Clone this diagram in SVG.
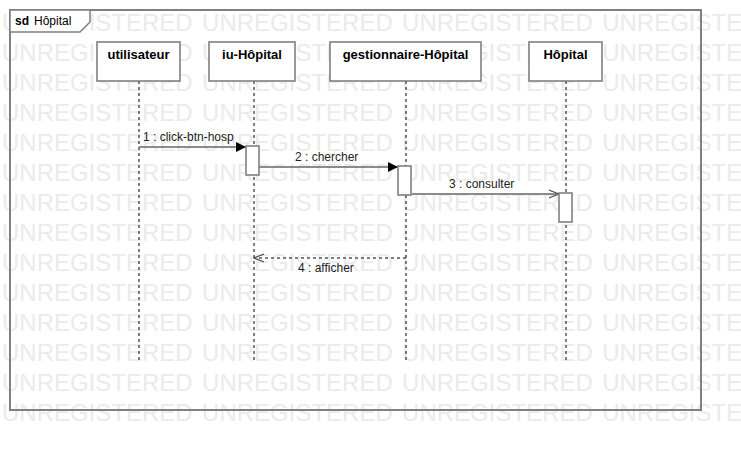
<svg xmlns="http://www.w3.org/2000/svg" width="741" height="450" viewBox="0 0 741 450">
<style>
.wm{font-family:"Liberation Sans",Arial,sans-serif;font-size:24px;fill:#ebebeb;word-spacing:2.7px}
.box{fill:#fff;stroke:#808080;stroke-width:1.6}
.act{fill:#fff;stroke:#808080;stroke-width:1.6}
.title{font-family:"Liberation Sans",Arial,sans-serif;font-size:13px;font-weight:bold;fill:#000;text-anchor:middle}
.lbl{font-family:"Liberation Sans",Arial,sans-serif;font-size:12px;fill:#222}
.life{stroke:#000;stroke-width:1;stroke-dasharray:3,3;fill:none}
.msg{stroke:#666;stroke-width:1.4;fill:none}
.ret{stroke:#555;stroke-width:1.4;fill:none;stroke-dasharray:3,3}
</style>
<defs>
<marker id="filled" markerUnits="userSpaceOnUse" markerWidth="11" markerHeight="11" refX="10" refY="5" orient="auto">
<path d="M0,0 L10,5 L0,10 z" fill="#000"/>
</marker>
<marker id="open" markerUnits="userSpaceOnUse" markerWidth="12" markerHeight="11" refX="10" refY="5" orient="auto">
<path d="M0,1 L10,5 L0,9" fill="none" stroke="#555" stroke-width="1.2"/>
</marker>
</defs>
<rect x="0" y="0" width="741" height="450" fill="#fff"/>
<g id="watermark">
<text class="wm" x="2" y="31">UNREGISTERED UNREGISTERED UNREGISTERED UNREGISTERED</text>
<text class="wm" x="2" y="61">UNREGISTERED UNREGISTERED UNREGISTERED UNREGISTERED</text>
<text class="wm" x="2" y="91">UNREGISTERED UNREGISTERED UNREGISTERED UNREGISTERED</text>
<text class="wm" x="2" y="121">UNREGISTERED UNREGISTERED UNREGISTERED UNREGISTERED</text>
<text class="wm" x="2" y="151">UNREGISTERED UNREGISTERED UNREGISTERED UNREGISTERED</text>
<text class="wm" x="2" y="181">UNREGISTERED UNREGISTERED UNREGISTERED UNREGISTERED</text>
<text class="wm" x="2" y="211">UNREGISTERED UNREGISTERED UNREGISTERED UNREGISTERED</text>
<text class="wm" x="2" y="241">UNREGISTERED UNREGISTERED UNREGISTERED UNREGISTERED</text>
<text class="wm" x="2" y="271">UNREGISTERED UNREGISTERED UNREGISTERED UNREGISTERED</text>
<text class="wm" x="2" y="301">UNREGISTERED UNREGISTERED UNREGISTERED UNREGISTERED</text>
<text class="wm" x="2" y="331">UNREGISTERED UNREGISTERED UNREGISTERED UNREGISTERED</text>
<text class="wm" x="2" y="361">UNREGISTERED UNREGISTERED UNREGISTERED UNREGISTERED</text>
<text class="wm" x="2" y="391">UNREGISTERED UNREGISTERED UNREGISTERED UNREGISTERED</text>
<text class="wm" x="2" y="421">UNREGISTERED UNREGISTERED UNREGISTERED UNREGISTERED</text>
</g>
<g id="frame">
<rect x="10" y="10" width="691" height="400" fill="none" stroke="#808080" stroke-width="2"/>
<path d="M10,10 L90,10 L90,22 L80,32 L10,32 z" fill="#fff" stroke="#808080" stroke-width="1.5"/>
<text x="15" y="25" font-family="'Liberation Sans',Arial,sans-serif" font-size="12" fill="#000"><tspan font-weight="bold">sd</tspan><tspan dx="5">Hôpital</tspan></text>
</g>
<g id="lifelines">
<line class="life" x1="139" y1="81" x2="139" y2="360"/>
<line class="life" x1="254" y1="81" x2="254" y2="360"/>
<line class="life" x1="406" y1="81" x2="406" y2="360"/>
<line class="life" x1="566" y1="81" x2="566" y2="360"/>
</g>
<g id="connectors">
<line class="msg" x1="139" y1="147" x2="246" y2="147" marker-end="url(#filled)"/>
<text class="lbl" x="143" y="141">1 : click-btn-hosp</text>
<line class="msg" x1="259" y1="167" x2="398" y2="167" marker-end="url(#filled)"/>
<text class="lbl" x="295" y="161">2 : chercher</text>
<line class="msg" x1="412" y1="194" x2="559" y2="194" marker-end="url(#open)"/>
<text class="lbl" x="449" y="188">3 : consulter</text>
<line class="ret" x1="406" y1="258" x2="254" y2="258" marker-end="url(#open)"/>
<text class="lbl" x="298" y="272">4 : afficher</text>
</g>
<g id="node-utilisateur">
<rect class="box" x="97" y="42" width="83" height="39"/>
<text class="title" x="138.5" y="59">utilisateur</text>
</g>
<g id="node-iu-hopital">
<rect class="box" x="209" y="42" width="86" height="39"/>
<text class="title" x="252" y="59">iu-Hôpital</text>
<rect class="act" x="246" y="146" width="13" height="29"/>
</g>
<g id="node-gestionnaire-hopital">
<rect class="box" x="330" y="42" width="151" height="39"/>
<text class="title" x="405.5" y="59">gestionnaire-Hôpital</text>
<rect class="act" x="398" y="166" width="13" height="29"/>
</g>
<g id="node-hopital">
<rect class="box" x="529" y="42" width="73" height="39"/>
<text class="title" x="565.5" y="59">Hôpital</text>
<rect class="act" x="559" y="193" width="13" height="29"/>
</g>
</svg>
